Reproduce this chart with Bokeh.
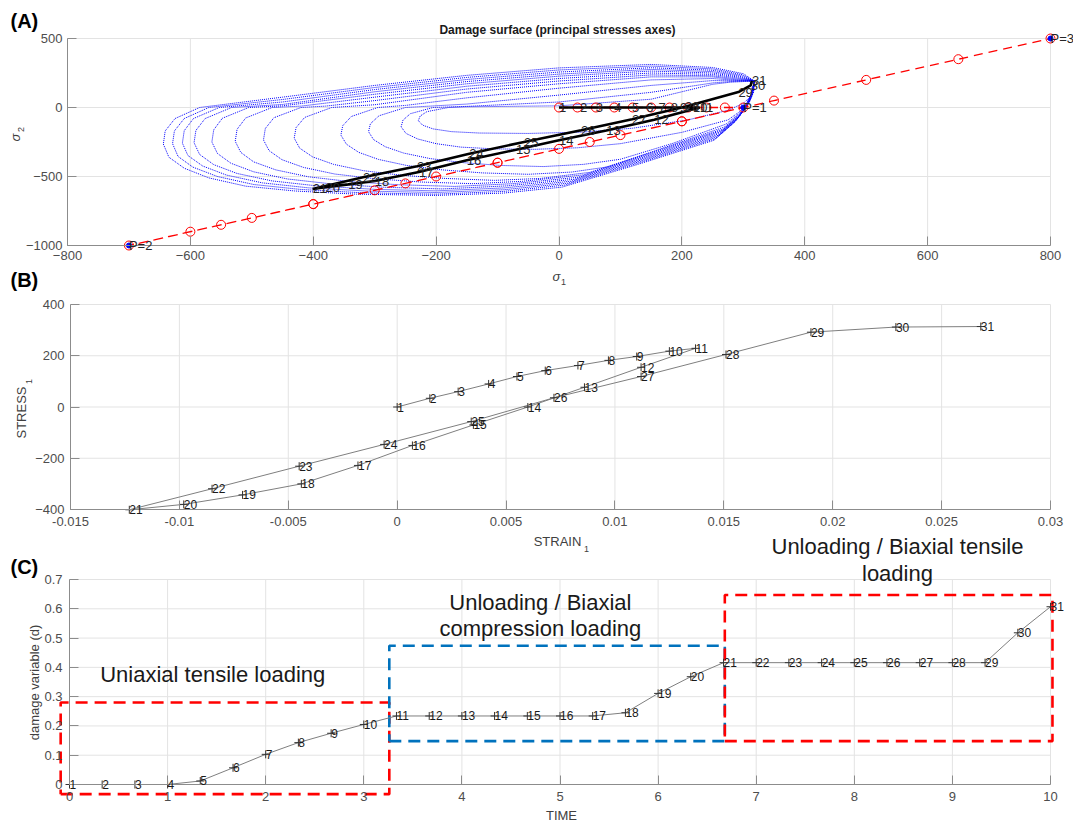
from bokeh.plotting import figure
from bokeh.models import ColumnDataSource, LabelSet, Label, FixedTicker
from bokeh.layouts import column
from bokeh.embed import file_html
from bokeh.resources import INLINE
from bokeh.core.properties import value

FONT = "Liberation Sans"
PAGE_W = 1073

# ---------------- data ----------------
# Panel A: imposed loading path (red), P points
path_s1 = [0, 30, 60, 90, 120, 150, 180, 210, 240, 270, 300,
           200, 100, 0, -100, -200, -300, -400, -500, -600, -700,
           -550, -400, -250, -100, 50, 200, 350, 500, 650, 800]
path_s2 = [0, 0, 0, 0, 0, 0, 0, 0, 0, 0, 0,
           -100, -200, -300, -400, -500, -600, -700, -800, -900, -1000,
           -850, -700, -550, -400, -250, -100, 50, 200, 350, 500]
p_names = ["P=1", "P=2", "P=3"]
p_s1 = [300, -700, 800]
p_s2 = [0, -1000, 500]

# Panel A: computed principal stress path (black)
steps = list(range(1, 32))
sig1 = [0, 34, 60, 90, 119, 142, 162, 182, 197, 218, 229, 155, 77, 0, -70, -150, -228, -300, -343,
        -380, -401, -319, -231, -146, -57, 36, 119, 205, 292, 312, 314]
sig2 = [0, 0, 0, 0, 0, 0, 0, 0, 0, 0, 0, -88, -166, -238, -306, -383, -468, -533, -557, -577, -590,
        -505, -425, -335, -250, -165, -85, 5, 112, 160, 194]

# Panel A: damage surfaces (outer -> inner)
surf_0 = [(318,192),(300,245),(250,290),(150,312),(0,287),(-150,233),(-300,160),(-450,75),(-585,0),(-625,-80),(-641,-170),(-644,-265),(-635,-360),(-610,-440),(-570,-510),(-510,-570),(-430,-605),(-330,-628),(-200,-637),(-90,-620),(5,-577),(130,-410),(252,-238),(285,-110),(300,-20),(312,90),(318,192)]
surf_1 = [(318,192),(298,238),(250,280),(150,300),(0,272),(-150,218),(-300,145),(-450,58),(-570,0),(-610,-80),(-626,-170),(-629,-262),(-620,-355),(-596,-432),(-556,-500),(-497,-558),(-420,-594),(-320,-618),(-200,-628),(-90,-608),(10,-562),(135,-395),(255,-225),(287,-100),(301,-15),(312,90),(318,192)]
surf_2 = [(318,192),(296,232),(250,270),(150,288),(0,257),(-150,203),(-300,130),(-450,40),(-553,0),(-595,-80),(-610,-168),(-613,-258),(-604,-348),(-580,-424),(-541,-490),(-483,-546),(-408,-582),(-310,-606),(-200,-616),(-90,-596),(15,-548),(140,-380),(258,-212),(289,-90),(302,-10),(313,90),(318,192)]
surf_3 = [(318,192),(294,226),(250,260),(150,276),(0,242),(-150,188),(-300,114),(-450,22),(-533,0),(-576,-80),(-591,-166),(-594,-255),(-585,-340),(-562,-414),(-524,-478),(-467,-532),(-394,-568),(-300,-593),(-200,-604),(-90,-583),(20,-534),(145,-365),(260,-200),(291,-80),(303,-5),(313,92),(318,192)]
surf_4 = [(318,192),(292,220),(250,250),(150,264),(0,227),(-150,172),(-300,96),(-450,12),(-505,0),(-548,-78),(-562,-162),(-565,-250),(-556,-333),(-534,-404),(-497,-466),(-442,-518),(-372,-553),(-285,-578),(-190,-590),(-85,-568),(25,-520),(150,-350),(262,-188),(292,-72),(304,0),(314,95),(318,192)]
surf_5 = [(318,192),(290,214),(250,240),(150,250),(0,210),(-150,154),(-300,75),(-420,10),(-467,0),(-510,-76),(-524,-158),(-527,-245),(-518,-325),(-497,-394),(-461,-452),(-408,-502),(-340,-537),(-260,-560),(-170,-572),(-75,-552),(32,-505),(155,-335),(264,-176),(293,-65),(305,5),(314,98),(318,192)]
surf_6 = [(318,192),(288,208),(250,230),(150,236),(0,192),(-150,134),(-300,50),(-380,10),(-420,0),(-464,-74),(-478,-152),(-481,-235),(-472,-312),(-451,-378),(-416,-434),(-365,-482),(-300,-516),(-225,-540),(-140,-552),(-60,-535),(40,-488),(160,-320),(266,-165),(294,-58),(306,10),(315,100),(318,192)]
surf_7 = [(318,192),(286,202),(250,222),(150,222),(0,172),(-150,110),(-300,20),(-370,0),(-414,-72),(-428,-146),(-431,-222),(-422,-295),(-401,-358),(-367,-412),(-318,-458),(-256,-491),(-185,-514),(-105,-528),(-30,-514),(50,-470),(165,-305),(268,-155),(295,-50),(307,15),(315,103),(318,192)]
surf_8 = [(318,192),(284,198),(250,210),(150,200),(0,140),(-150,70),(-250,15),(-295,0),(-338,-65),(-352,-132),(-355,-200),(-346,-266),(-326,-325),(-294,-376),(-248,-420),(-190,-452),(-125,-474),(-50,-484),(20,-468),(80,-430),(175,-285),(270,-140),(296,-40),(308,22),(316,106),(318,192)]
surf_9 = [(318,192),(282,194),(250,195),(150,160),(0,90),(-150,25),(-250,0),(-293,-60),(-307,-118),(-310,-175),(-302,-232),(-283,-284),(-253,-330),(-210,-370),(-155,-400),(-95,-420),(-25,-428),(40,-412),(100,-375),(185,-260),(272,-120),(297,-30),(309,30),(316,110),(318,192)]
surf_10 = [(318,192),(280,188),(250,178),(150,110),(0,40),(-150,8),(-205,0),(-242,-45),(-254,-92),(-257,-140),(-249,-188),(-230,-228),(-200,-262),(-160,-287),(-105,-300),(-40,-303),(30,-292),(100,-262),(200,-180),(275,-90),(299,-15),(310,40),(317,115),(318,192)]
surf_11 = [(318,192),(278,183),(250,168),(150,60),(0,12),(-150,5),(-180,0),(-215,-30),(-226,-62),(-229,-95),(-222,-128),(-205,-155),(-175,-175),(-130,-185),(-50,-188),(40,-178),(120,-150),(210,-90),(275,-20),(300,30),(312,80),(317,130),(318,192)]
surfaces = [surf_0, surf_1, surf_2, surf_3, surf_4, surf_5, surf_6, surf_7, surf_8, surf_9, surf_10, surf_11]

# Panel B: stress-strain
strain1 = [0.0, 0.0015, 0.0028, 0.0042, 0.0055, 0.0068, 0.0083, 0.0097, 0.0110, 0.0125, 0.0137,
           0.0112, 0.0086, 0.0060, 0.0035, 0.0007, -0.0018, -0.0044, -0.0071, -0.0098, -0.0123,
           -0.0085, -0.0045, -0.0006, 0.0034, 0.0072, 0.0112, 0.0151, 0.0190, 0.0229, 0.0268]
stress1 = sig1

# Panel C: damage vs time
time = [0, 0.333, 0.667, 1.0, 1.333, 1.667, 2.0, 2.333, 2.667, 3.0, 3.333, 3.667, 4.0, 4.333, 4.667,
        5.0, 5.333, 5.667, 6.0, 6.333, 6.667, 7.0, 7.333, 7.667, 8.0, 8.333, 8.667, 9.0, 9.333, 9.667, 10.0]
damage = [0, 0, 0, 0, 0.012, 0.057, 0.103, 0.143, 0.175, 0.205, 0.234, 0.234, 0.234, 0.234, 0.234,
          0.234, 0.234, 0.245, 0.311, 0.368, 0.416, 0.416, 0.416, 0.416, 0.416, 0.416, 0.416, 0.416,
          0.416, 0.518, 0.607]

# Stage boxes (t0, t1, d0, d1)
box_uniaxial = (-0.09, 3.26, -0.033, 0.28)
box_compression = (3.26, 6.68, 0.148, 0.474)
box_tension = (6.68, 10.02, 0.148, 0.647)
stage_text = ["Uniaxial tensile loading", "Unloading / Biaxial", "compression loading",
              "Unloading / Biaxial tensile", "loading"]
stage_t = [1.46, 4.80, 4.80, 8.44, 8.44]
stage_d = [0.374, 0.623, 0.532, 0.812, 0.721]

xticks_A = [-800, -600, -400, -200, 0, 200, 400, 600, 800]
yticks_A = [-1000, -500, 0, 500]
xticks_B = [-0.015, -0.01, -0.005, 0, 0.005, 0.01, 0.015, 0.02, 0.025, 0.03]
xlabels_B = ["-0.015", "-0.01", "-0.005", "0", "0.005", "0.01", "0.015", "0.02", "0.025", "0.03"]
yticks_B = [-400, -200, 0, 200, 400]
xticks_C = [0, 1, 2, 3, 4, 5, 6, 7, 8, 9, 10]
yticks_C = [0, 0.1, 0.2, 0.3, 0.4, 0.5, 0.6, 0.7]
ylabels_C = ["0", "0.1", "0.2", "0.3", "0.4", "0.5", "0.6", "0.7"]

# ---------------- layout helpers ----------------
# axes box in page pixels <-> data extents: (X0, X1, x0, x1, Y0, Y1, y0, y1)
FA = (67, 1050, -800, 800, 245, 38, -1000, 500)
FB = (70, 1050, -0.015, 0.03, 509, 304, -400, 400)
FC = (69, 1050, 0, 10, 784, 579, 0, 0.7)


def px(frame, X, Y):
    X0, X1, x0, x1, Y0, Y1, y0, y1 = frame
    return x0 + (X - X0) * (x1 - x0) / (X1 - X0), y0 + (Y - Y0) * (y1 - y0) / (Y1 - Y0)


def make_fig(frame, top, H):
    # the frame fills the whole canvas; axes are drawn at fixed locations
    xs, _ = px(frame, 0, 0)
    xe, _ = px(frame, PAGE_W, 0)
    _, ye = px(frame, 0, top)
    _, ys = px(frame, 0, top + H)
    p = figure(width=PAGE_W, height=H, x_range=(xs, xe), y_range=(ys, ye), output_backend="svg",
               toolbar_location=None, min_border_left=0, min_border_right=0,
               min_border_top=0, min_border_bottom=0)
    p.outline_line_color = None
    p.background_fill_color = "white"
    p.border_fill_color = "white"
    p.grid.visible = False
    return p


def style_axes(p, frame, xticks, yticks, xst, yst, xover=None, yover=None):
    X0, X1, x0, x1, Y0, Y1, y0, y1 = frame
    # grid lines inside the axes box only
    p.segment(x0=xticks, y0=[y0] * len(xticks), x1=xticks, y1=[y1] * len(xticks),
              line_color="#e3e3e3", line_width=1)
    p.segment(x0=[x0] * len(yticks), y0=yticks, x1=[x1] * len(yticks), y1=yticks,
              line_color="#e3e3e3", line_width=1)
    p.xaxis.ticker = FixedTicker(ticks=xticks)
    p.yaxis.ticker = FixedTicker(ticks=yticks)
    p.xaxis.fixed_location = y0
    p.yaxis.fixed_location = x0
    p.xaxis.bounds = (x0, x1)
    p.yaxis.bounds = (y0, y1)
    for ax, st in ((p.xaxis[0], xst), (p.yaxis[0], yst)):
        ax.axis_line_color = "#8c8c8c"
        ax.axis_line_width = 1
        ax.major_tick_line_color = "#8c8c8c"
        ax.major_tick_in = 9
        ax.major_tick_out = 0
        ax.minor_tick_line_color = None
        ax.major_label_standoff = st
        ax.major_label_text_font = FONT
        ax.major_label_text_font_size = "13px"
        ax.major_label_text_color = "#4d4d4d"
    if xover:
        p.xaxis.major_label_overrides = xover
    if yover:
        p.yaxis.major_label_overrides = yover


def add_text(p, frame, X, Y, text, size, bold=False, italic=False, angle=0, align="center", color="#262626"):
    x, y = px(frame, X, Y)
    style = "bold" if bold else ("italic" if italic else "normal")
    p.add_layout(Label(x=x, y=y, text=text, text_font=FONT, text_font_size=f"{size}px",
                       text_font_style=style, angle=angle, text_align=align,
                       text_baseline="middle", text_color=color))


def point_labels(p, xs, ys, texts, size="12px", color="#1a1a1a"):
    src = ColumnDataSource(dict(x=xs, y=ys, t=texts))
    p.add_layout(LabelSet(x="x", y="y", text="t", source=src, text_font=value(FONT),
                          text_font_size=value(size), text_align="left", text_baseline="middle",
                          text_color=color))


# ---------------- Panel A ----------------
TOP_A, H_A = 0, 296
pA = make_fig(FA, TOP_A, H_A)
style_axes(pA, FA, xticks_A, yticks_A, 5, 5)

sx = [[pt[0] for pt in s] for s in surfaces]
sy = [[pt[1] for pt in s] for s in surfaces]
pA.multi_line(sx, sy, line_color="#0000ff", line_dash="1 1", line_width=1)

pA.line(path_s1, path_s2, line_color="#ff0000", line_dash="9 6", line_width=1.3)
pA.scatter(path_s1, path_s2, marker="circle", size=9, fill_color=None, line_color="#ff0000", line_width=1)
pA.scatter(p_s1, p_s2, marker="circle", size=5, fill_color="#0000ff", line_color="#0000ff")

pA.line(sig1, sig2, line_color="black", line_width=2.6)
point_labels(pA, sig1, sig2, [str(s) for s in steps], size="13px", color="#262626")
point_labels(pA, p_s1, p_s2, p_names, size="13px", color="#262626")

add_text(pA, FA, 10, 20, "(A)", 20, bold=True, align="left", color="black")
add_text(pA, FA, 557, 29, "Damage surface (principal stresses axes)", 12, bold=True, color="#1a1a1a")
add_text(pA, FA, 556, 276, "σ", 13, italic=True, color="#404040")
add_text(pA, FA, 563, 281, "1", 9, color="#404040")
add_text(pA, FA, 15, 137, "σ", 13, italic=True, angle=1.5708, color="#404040")
add_text(pA, FA, 20, 129, "2", 9, angle=1.5708, color="#404040")
add_text(pA, FA, 10, 279, "(B)", 20, bold=True, align="left", color="black")

# ---------------- Panel B ----------------
TOP_B, H_B = 296, 237
pB = make_fig(FB, TOP_B, H_B)
style_axes(pB, FB, xticks_B, yticks_B, 7, 6, xover={t: l for t, l in zip(xticks_B, xlabels_B)})
pB.line(strain1, stress1, line_color="#7f7f7f", line_width=1)
pB.scatter(strain1, stress1, marker="cross", size=8, line_color="#333333", line_width=1)
point_labels(pB, strain1, stress1, [str(s) for s in steps])
add_text(pB, FB, 21, 412, "STRESS", 13, angle=1.5708, color="#404040")
add_text(pB, FB, 28, 381, "1", 9, angle=1.5708, color="#404040")

# ---------------- Panel C ----------------
TOP_C, H_C = 533, 289
pC = make_fig(FC, TOP_C, H_C)
style_axes(pC, FC, xticks_C, yticks_C, 7, 7, yover={t: l for t, l in zip(yticks_C, ylabels_C)})

for box, col in ((box_uniaxial, "#ff0000"), (box_compression, "#0072bd"), (box_tension, "#ff0000")):
    t0, t1, d0, d1 = box
    pC.line([t0, t1, t1, t0, t0], [d0, d0, d1, d1, d0], line_color=col, line_width=2.6,
            line_dash="12 7")

pC.line(time, damage, line_color="#7f7f7f", line_width=1)
pC.scatter(time, damage, marker="cross", size=8, line_color="#333333", line_width=1)
point_labels(pC, time, damage, [str(s) for s in steps])

pC.text(x=stage_t, y=stage_d, text=stage_text, text_font=value(FONT), text_font_size="22px",
        text_align="center", text_baseline="middle", text_color="#1a1a1a")

add_text(pC, FC, 557, 541, "STRAIN", 13, color="#404040")
add_text(pC, FC, 586, 548, "1", 9, color="#404040")
add_text(pC, FC, 10, 566, "(C)", 20, bold=True, align="left", color="black")
add_text(pC, FC, 34, 682, "damage variable (d)", 13, angle=1.5708, color="#404040")
add_text(pC, FC, 561, 815, "TIME", 13, color="#404040")

layout = column(pA, pB, pC)
open("out.html", "w").write(file_html(layout, INLINE))
